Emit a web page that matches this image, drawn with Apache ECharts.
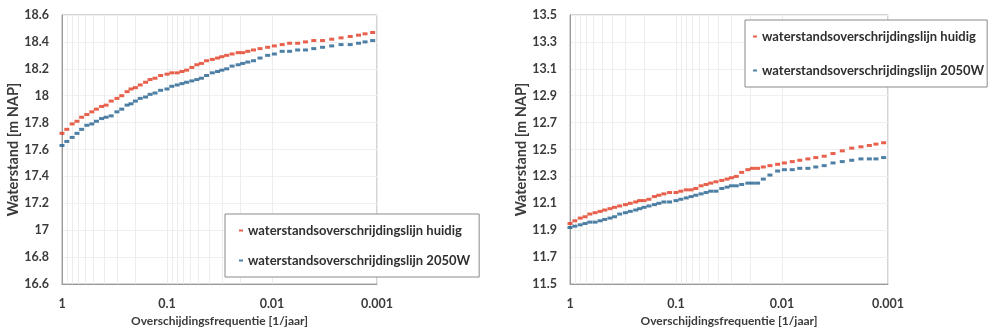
<!DOCTYPE html>
<html>
<head>
<meta charset="utf-8">
<title>Waterstandsoverschrijdingslijnen</title>
<script src="https://cdn.jsdelivr.net/npm/echarts@6/dist/echarts.min.js"></script>
<style>
  html, body { margin: 0; padding: 0; background: #fff; }
  #chart { width: 995px; height: 332px; }
</style>
</head>
<body>
<div id="chart"></div>
<script>
// overschrijdingsfrequenties [1/jaar] waarop de punten liggen
var freqs = [1, 0.9, 0.8, 0.72, 0.65, 0.58, 0.52, 0.47, 0.42, 0.38, 0.34, 0.3, 0.27, 0.24,
	0.22, 0.2, 0.18, 0.16, 0.145, 0.13, 0.115, 0.1, 0.09, 0.08, 0.072, 0.065, 0.058, 0.052,
	0.047, 0.042, 0.037, 0.033, 0.03, 0.027, 0.024, 0.021, 0.019, 0.017, 0.015, 0.013,
	0.011, 0.0095, 0.008, 0.0068, 0.0057, 0.0048, 0.004, 0.0033, 0.0027, 0.0022, 0.0018,
	0.0015, 0.0013, 0.0011];

// linker grafiek (m NAP)
var huidigLinks = [17.72, 17.75, 17.79, 17.81, 17.84, 17.86, 17.88, 17.90, 17.92, 17.93,
	17.96, 17.98, 18.00, 18.03, 18.05, 18.06, 18.08, 18.10, 18.12, 18.13, 18.15, 18.16,
	18.17, 18.17, 18.18, 18.19, 18.21, 18.23, 18.24, 18.26, 18.27, 18.28, 18.29, 18.30,
	18.31, 18.32, 18.32, 18.33, 18.34, 18.35, 18.36, 18.37, 18.38, 18.39, 18.39, 18.40,
	18.41, 18.41, 18.42, 18.43, 18.44, 18.45, 18.46, 18.47];
var w2050Links = [17.63, 17.66, 17.69, 17.72, 17.75, 17.78, 17.79, 17.81, 17.83, 17.84,
	17.85, 17.88, 17.90, 17.93, 17.94, 17.96, 17.98, 17.99, 18.01, 18.02, 18.04, 18.05,
	18.07, 18.08, 18.09, 18.10, 18.11, 18.12, 18.13, 18.15, 18.17, 18.18, 18.19, 18.20,
	18.22, 18.23, 18.24, 18.25, 18.26, 18.28, 18.30, 18.31, 18.33, 18.33, 18.34, 18.34,
	18.35, 18.36, 18.37, 18.38, 18.38, 18.39, 18.40, 18.41];

// rechter grafiek (m NAP)
var huidigRechts = [11.95, 11.97, 11.99, 12.00, 12.02, 12.03, 12.04, 12.05, 12.06, 12.07,
	12.08, 12.09, 12.10, 12.11, 12.12, 12.12, 12.13, 12.15, 12.16, 12.17, 12.18, 12.18,
	12.19, 12.20, 12.20, 12.21, 12.23, 12.24, 12.25, 12.26, 12.27, 12.28, 12.29, 12.30,
	12.33, 12.35, 12.36, 12.36, 12.37, 12.38, 12.39, 12.40, 12.41, 12.42, 12.43, 12.44,
	12.45, 12.47, 12.49, 12.51, 12.52, 12.53, 12.54, 12.55];
var w2050Rechts = [11.92, 11.93, 11.94, 11.95, 11.96, 11.96, 11.97, 11.98, 11.99, 12.00,
	12.02, 12.03, 12.04, 12.05, 12.06, 12.07, 12.08, 12.09, 12.10, 12.11, 12.11, 12.12,
	12.13, 12.14, 12.15, 12.16, 12.17, 12.18, 12.19, 12.19, 12.21, 12.22, 12.23, 12.23,
	12.24, 12.25, 12.25, 12.25, 12.28, 12.31, 12.34, 12.35, 12.35, 12.36, 12.36, 12.37,
	12.38, 12.40, 12.41, 12.42, 12.43, 12.43, 12.43, 12.44];

// hulplijnen (minor gridlines) op de log-as
var minorGrid = [0.9, 0.8, 0.7, 0.6, 0.5, 0.4, 0.3, 0.2,
	0.09, 0.08, 0.07, 0.06, 0.05, 0.04, 0.03, 0.02,
	0.009, 0.008, 0.007, 0.006, 0.005, 0.004, 0.003, 0.002];

var naamHuidig = 'waterstandsoverschrijdingslijn huidig';
var naam2050 = 'waterstandsoverschrijdingslijn 2050W';

var FONT = 'Lato';
var TXT = '#3b3b3b';
var ROOD = '#e23a1f';
var BLAUW = '#22608f';

function pairs(xs, ys) {
	var out = [];
	for (var i = 0; i < xs.length; i++) {
		out.push([xs[i], ys[i]]);
	}
	return out;
}

function xAs(idx) {
	return {
		type : 'log',
		logBase : 10,
		gridIndex : idx,
		min : 0.001,
		max : 1,
		inverse : true,
		name : 'Overschijdingsfrequentie [1/jaar]',
		nameLocation : 'middle',
		nameGap : 31,
		nameTextStyle : { fontFamily : FONT, fontWeight : 'bold', fontSize : 12, color : TXT },
		axisLine : { show : true, lineStyle : { color : '#9a9a9a' } },
		axisTick : { show : false },
		axisLabel : { fontFamily : FONT, fontWeight : 'bold', fontSize : 12.5, color : TXT, margin : 13 },
		splitLine : { show : true, lineStyle : { color : '#ececec' } }
	};
}

function yAs(idx, lo, hi, gap) {
	return {
		type : 'value',
		gridIndex : idx,
		min : lo,
		max : hi,
		interval : 0.2,
		name : 'Waterstand [m NAP]',
		nameLocation : 'middle',
		nameGap : gap,
		nameTextStyle : { fontFamily : FONT, fontWeight : 'bold', fontSize : 14.5, color : TXT },
		axisLine : { show : true, lineStyle : { color : '#9a9a9a' } },
		axisTick : { show : false },
		axisLabel : { fontFamily : FONT, fontWeight : 'bold', fontSize : 12.5, color : TXT, margin : 13 },
		splitLine : { show : true, lineStyle : { color : '#f0f0f0' } }
	};
}

function reeks(naam, kleur, xi, xs, ys, metGrid) {
	var s = {
		name : naam,
		type : 'scatter',
		xAxisIndex : xi,
		yAxisIndex : xi,
		symbol : 'rect',
		symbolSize : [5, 3],
		itemStyle : { color : kleur },
		data : pairs(xs, ys),
		z : 3
	};
	if (metGrid) {
		s.markLine = {
			silent : true,
			symbol : 'none',
			label : { show : false },
			lineStyle : { color : '#ededed', type : 'solid', width : 1 },
			data : minorGrid.map(function(f) { return { xAxis : f }; }),
			z : 1
		};
	}
	return s;
}

function legenda(left, top, pad, gap) {
	return {
		orient : 'vertical',
		left : left,
		top : top,
		padding : pad,
		itemGap : gap,
		itemWidth : 4,
		itemHeight : 2,
		icon : 'rect',
		backgroundColor : '#fff',
		borderColor : '#8a8a8a',
		borderWidth : 1,
		selectedMode : false,
		textStyle : { fontFamily : FONT, fontWeight : 'bold', fontSize : 13, color : '#2f2f2f' },
		data : [naamHuidig, naam2050]
	};
}

var myChart = echarts.init(document.getElementById('chart'));

var option = {
	animation : false,
	backgroundColor : '#fff',
	grid : [{
		left : 62, top : 15, width : 315, height : 278,
		show : true, borderColor : '#a8a8a8', borderWidth : 1
	}, {
		left : 570, top : 15, width : 318, height : 278,
		show : true, borderColor : '#a8a8a8', borderWidth : 1
	}],
	legend : [
		legenda(225, 214, [10, 9, 10, 14], 17),
		legenda(745, 20, [10, 3, 10, 8], 21)
	],
	xAxis : [xAs(0), xAs(1)],
	yAxis : [yAs(0, 16.6, 18.6, 40), yAs(1, 11.5, 13.5, 41)],
	series : [
		reeks(naamHuidig, ROOD, 0, freqs, huidigLinks, true),
		reeks(naam2050, BLAUW, 0, freqs, w2050Links, false),
		reeks(naamHuidig, ROOD, 1, freqs, huidigRechts, true),
		reeks(naam2050, BLAUW, 1, freqs, w2050Rechts, false)
	]
};

myChart.setOption(option);
</script>
</body>
</html>
